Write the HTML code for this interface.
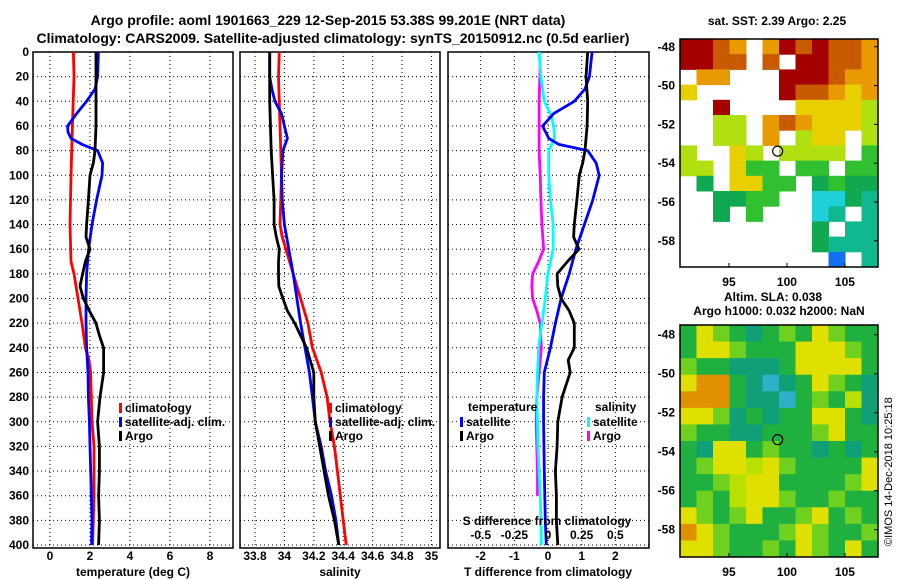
<!DOCTYPE html>
<html><head><meta charset="utf-8">
<style>
html,body{margin:0;padding:0;background:#fff;}
svg{display:block;font-family:"Liberation Sans",sans-serif;font-weight:bold;}
</style></head>
<body>
<svg id="fig" width="900" height="580" viewBox="0 0 900 580">
<text x="328" y="25" font-size="14" text-anchor="middle">Argo profile: aoml 1901663_229 12-Sep-2015 53.38S 99.201E (NRT data)</text>
<text x="333" y="43" font-size="14" text-anchor="middle">Climatology: CARS2009. Satellite-adjusted climatology: synTS_20150912.nc (0.5d earlier)</text>
<text x="777" y="25" font-size="12" text-anchor="middle">sat. SST: 2.39 Argo: 2.25</text>
<text x="773" y="301" font-size="12" text-anchor="middle">Altim. SLA: 0.038</text>
<text x="779" y="315" font-size="12" text-anchor="middle">Argo h1000: 0.032 h2000: NaN</text>
<text transform="translate(892,546) rotate(-90)" font-size="11" font-weight="normal">©IMOS 14-Dec-2018 10:25:18</text>
</svg>
<script>
// ---------- data ----------
const depthTicks = [0,20,40,60,80,100,120,140,160,180,200,220,240,260,280,300,320,340,360,380,400];
const tempTicks = [0,2,4,6,8];
const salTicks = [33.8,34,34.2,34.4,34.6,34.8,35];
const salTickLabels = ["33.8","34","34.2","34.4","34.6","34.8","35"];
const tdiffTicks = [-2,-1,0,1,2];
const sdiffTicks = [-0.5,-0.25,0,0.25,0.5];
const sdiffTickLabels = ["-0.5","-0.25","0","0.25","0.5"];

const tClimDepth = [0,20,60,100,140,170,180,200,220,240,250,260,300,320,360,400];
const tClimVal   = [1.17,1.2,1.12,1.05,1.0,1.05,1.2,1.4,1.6,1.77,1.95,2.03,2.1,2.2,2.2,2.13];
const tSatDepth = [0,20,30,40,50,60,65,70,75,80,90,100,120,140,160,180,200,220,240,260,280,300,320,360,380,400];
const tSatVal   = [2.42,2.38,2.25,1.83,1.33,0.88,0.9,1.05,1.6,2.38,2.63,2.6,2.33,2.1,1.93,1.83,1.8,1.8,1.83,1.9,1.92,1.97,2.0,2.07,2.1,2.08];
const tArgoDepth = [0,20,40,60,80,90,100,120,140,150,160,170,180,190,200,210,220,230,240,260,280,300,320,340,360,380,400];
const tArgoVal   = [2.3,2.3,2.3,2.3,2.25,2.17,2.0,1.92,1.83,1.8,2.0,1.77,1.63,1.5,1.67,1.97,2.3,2.47,2.68,2.68,2.5,2.38,2.47,2.47,2.43,2.47,2.43];

const sClimDepth = [0,20,60,100,140,150,160,180,200,220,240,260,280,300,320,340,360,380,400];
const sClimVal   = [33.965,33.96,33.97,33.98,33.97,33.985,34.01,34.06,34.11,34.16,34.19,34.25,34.29,34.31,34.34,34.36,34.38,34.40,34.42];
const sSatDepth = [0,20,30,40,50,60,70,80,100,120,140,160,180,200,220,240,260,280,300,320,340,360,380,400];
const sSatVal   = [33.9,33.9,33.915,33.935,33.98,34.0,34.02,33.99,33.98,33.985,34.0,34.03,34.06,34.085,34.11,34.14,34.17,34.19,34.21,34.25,34.28,34.32,34.35,34.37];
const sArgoDepth = [0,40,80,100,120,140,150,160,170,180,190,200,210,220,230,240,260,280,300,320,340,360,380,400];
const sArgoVal   = [33.9,33.9,33.91,33.92,33.93,33.93,33.945,33.965,33.96,33.96,33.962,33.99,34.02,34.07,34.11,34.15,34.2,34.2,34.21,34.24,34.27,34.3,34.34,34.37];

const dTSatDepth = [0,20,30,40,50,60,70,75,80,90,100,120,140,160,180,200,220,240,260,280,300,340,380,400];
const dTSatVal   = [1.31,1.23,1.1,0.78,0.17,-0.16,0.02,0.32,1.18,1.43,1.52,1.33,1.08,0.83,0.63,0.39,0.22,0.07,-0.11,-0.13,-0.13,-0.11,-0.08,-0.05];
const dTArgoDepth = [0,20,40,60,80,90,100,120,140,150,160,170,180,190,200,210,220,240,250,260,280,300,320,340,360,380,400];
const dTArgoVal   = [1.18,1.13,1.18,1.16,1.1,1.03,0.93,0.86,0.78,0.76,0.92,0.58,0.27,0.29,0.39,0.63,0.78,0.78,0.6,0.66,0.42,0.29,0.27,0.22,0.25,0.25,0.29];
const dSArgoDepth = [10,40,80,100,120,140,160,170,180,190,200,210,220,240,260,280,300,320,340,360];
const dSArgoVal   = [-0.058,-0.066,-0.066,-0.058,-0.053,-0.045,-0.033,-0.07,-0.114,-0.12,-0.114,-0.083,-0.058,-0.05,-0.066,-0.083,-0.088,-0.083,-0.078,-0.078];
const dSSatDepth = [0,20,40,50,60,70,80,100,120,140,160,180,200,220,240,260,280,300,320,340,360,380,400];
const dSSatVal   = [-0.066,-0.053,-0.028,0.018,0.043,0.048,0.005,0.005,0.018,0.038,0.038,-0.002,-0.02,-0.045,-0.07,-0.078,-0.083,-0.078,-0.075,-0.066,-0.058,-0.053,-0.05];

const mapLonTicks = [95,100,105];
const mapLatTicks = [-48,-50,-52,-54,-56,-58];
const sstRows = [
"RROo.oROROOo",
"RROO.O.RROOo",
".oo...RRROoo",
"Y.....ROOoYo",
"..R....YYYYL",
"..LL.oOoYYYL",
"..LL.o.LYY.L",
"L..YL.LLLL.G",
"LL.YGG.GG.GG",
".D.YYGG.DGDD",
"..DDGG..CCDT",
"..D.G...CT.T",
"........D.TT",
"........DTTT",
".........B.T"];
const slaRows = [
"GYgGTGgGYgGG",
"GYYgGGGYYYgG",
"gGGTTTGYYYYG",
"YOOGTCTGYgGT",
"OOOGTTCGgGyT",
"YYgTGTGGYYGT",
"gGGTTGGGgYGG",
"GTYYGgGGTGTG",
"GgYYyYgGGGGY",
"GGgyYYGGGGgY",
"GgGyYYgGGgGG",
"YgGgYGGgYGgG",
"OYgGGGgYgGGg",
"YYgGGgGYgGYG"];
const argoLon = 99.201, argoLat = -53.38;

// ---------- helpers ----------
const NS = "http://www.w3.org/2000/svg";
const svg = document.getElementById('fig');
function mk(tag, attrs, parent){const e=document.createElementNS(NS,tag);for(const k in attrs)e.setAttribute(k,attrs[k]);(parent||svg).appendChild(e);return e;}
const Y0=52, Y1=545, DMIN=0, DMAX=400, FRAME_T=52, FRAME_B=548;
function yD(d){return Y0+(d-DMIN)/(DMAX-DMIN)*(Y1-Y0);}

function panel(name, x0, x1, vmin, vmax, ticks, labels, grid){
  const xs = v => x0+(v-vmin)/(vmax-vmin)*(x1-x0);
  const g = mk('g',{});
  
  
  depthTicks.forEach(d=>{
    const l = mk('line',{x1:x0,x2:x1,y1:yD(d),y2:yD(d),stroke:'#000','stroke-width':1,'stroke-dasharray':'1,3'},g);
    
    
  });
  grid.forEach(v=>{
    const l = mk('line',{x1:xs(v),x2:xs(v),y1:FRAME_T,y2:FRAME_B,stroke:'#000','stroke-width':1,'stroke-dasharray':'1,3'},g);
    
    
  });
  ticks.forEach((v,i)=>{
    const t = mk('text',{x:xs(v),y:560,'font-size':12,'text-anchor':'middle'},g);
    t.textContent = labels[i];
    
    
  });
  const r = mk('rect',{x:x0,y:FRAME_T,width:x1-x0,height:FRAME_B-FRAME_T,fill:'none',stroke:'#000','stroke-width':1.5},g);
  
  
  return {g, xs};
}
function line(p, depths, vals, color, name){
  const pts = depths.map((d,i)=>p.xs(vals[i]).toFixed(1)+','+yD(d).toFixed(1)).join(' ');
  const pl = mk('polyline',{points:pts,fill:'none',stroke:color,'stroke-width':2.8,'stroke-linejoin':'round'},p.g);
  
  
}
function txt(x,y,s,name,anchor,size,parent){
  const t = mk('text',{x:x,y:y,'font-size':size||12,'text-anchor':anchor||'start'},parent);
  t.textContent = s;
  
  
  return t;
}
function legendEntry(x,y,color,label){
  const r = mk('rect',{x:x,y:y-9,width:3,height:10,fill:color});
  
  
  txt(x+6,y,label,'legend-entry');
}

depthTicks.forEach(d=>{ txt(29,yD(d)+4,String(d),'y-tick-label','end'); });

const p1 = panel('temperature-panel',33,233,-0.85,9.15,tempTicks,tempTicks.map(String),tempTicks);
line(p1,tClimDepth,tClimVal,'#ff0000','temp-climatology-line');
line(p1,tSatDepth,tSatVal,'#0000ff','temp-satellite-line');
line(p1,tArgoDepth,tArgoVal,'#000000','temp-argo-line');
txt(133,576,'temperature (deg C)','x-axis-title','middle');
legendEntry(119,412,'#ff0000','climatology');
legendEntry(119,426,'#0000ff','satellite-adj. clim.');
legendEntry(119,440,'#000000','Argo');

const p2 = panel('salinity-panel',240,440,33.698,35.058,salTicks,salTickLabels,salTicks);
line(p2,sClimDepth,sClimVal,'#ff0000','sal-climatology-line');
line(p2,sSatDepth,sSatVal,'#0000ff','sal-satellite-line');
line(p2,sArgoDepth,sArgoVal,'#000000','sal-argo-line');
txt(340,576,'salinity','x-axis-title','middle');
legendEntry(329,412,'#ff0000','climatology');
legendEntry(329,426,'#0000ff','satellite-adj. clim.');
legendEntry(329,440,'#000000','Argo');

const p3 = panel('difference-panel',448,649,-2.97,3.0,tdiffTicks,tdiffTicks.map(String),tdiffTicks);
const p3s = {g:p3.g, xs: v => p3.xs(v*4)};
line(p3s,dSArgoDepth,dSArgoVal,'#ff00ff','sdiff-argo-line');
line(p3s,dSSatDepth,dSSatVal,'#00ffff','sdiff-satellite-line');
line(p3,dTSatDepth,dTSatVal,'#0000ff','tdiff-satellite-line');
line(p3,dTArgoDepth,dTArgoVal,'#000000','tdiff-argo-line');
txt(548,576,'T difference from climatology','x-axis-title','middle');
txt(547,525,'S difference from climatology','s-axis-title','middle');
sdiffTicks.forEach((v,i)=>{ txt(p3.xs(v*4),539,sdiffTickLabels[i],'s-tick-label','middle'); });
txt(468,411,'temperature','legend-title');
legendEntry(460,426,'#0000ff','satellite');
legendEntry(460,440,'#000000','Argo');
txt(595,411,'salinity','legend-title');
legendEntry(587,426,'#00ffff','satellite');
legendEntry(587,440,'#ff00ff','Argo');

const sstColors = {R:'#a50000',O:'#c85a00',o:'#e89a00',Y:'#e8d000',L:'#b0e010',G:'#30c030',D:'#10a850',T:'#10b890',C:'#20d0d8',B:'#1070f0'};
const slaColors = {G:'#20b040',g:'#70d020',Y:'#e0e000',y:'#b8e000',O:'#e09000',T:'#10a078',C:'#30b0c8'};
function drawMap(name, x0,x1,y0,y1, lat0,lat1, rows, colors){
  const lonMin=90.78, lonMax=107.85;
  const lx = v => x0+(v-lonMin)/(lonMax-lonMin)*(x1-x0);
  const ly = v => y0+(lat0-v)/(lat0-lat1)*(y1-y0);
  const g = mk('g',{});
  
  
  const nr=rows.length, nc=rows[0].length, cw=(x1-x0)/nc, ch=(y1-y0)/nr;
  rows.forEach((row,ri)=>{ [...row].forEach((c,ci)=>{
    if(!colors[c]) return;
    const r = mk('rect',{x:x0+ci*cw,y:y0+ri*ch,width:cw+0.5,height:ch+0.5,fill:colors[c]},g);
    
    
  });});
  const f = mk('rect',{x:x0,y:y0,width:x1-x0,height:y1-y0,fill:'none',stroke:'#000','stroke-width':1.5},g);
  
  
  mapLonTicks.forEach(v=>{
    mk('line',{x1:lx(v),x2:lx(v),y1:y1,y2:y1-4,stroke:'#000'},g);
    txt(lx(v),y1+19,String(v),'map-lon-label','middle',12,g);
  });
  mapLatTicks.forEach(v=>{
    mk('line',{x1:x1,x2:x1-4,y1:ly(v),y2:ly(v),stroke:'#000'},g);
    txt(x0-5,ly(v)+4,String(v),'map-lat-label','end',12,g);
  });
  const c = mk('circle',{cx:lx(argoLon),cy:ly(argoLat),r:5,fill:'none',stroke:'#000','stroke-width':1.2},g);
  
  
}
drawMap('sst-map',680,878,39,267,-47.6,-59.35,sstRows,sstColors);
drawMap('sla-map',680,878,325,557,-47.5,-59.4,slaRows,slaColors);
</script>
</body></html>
